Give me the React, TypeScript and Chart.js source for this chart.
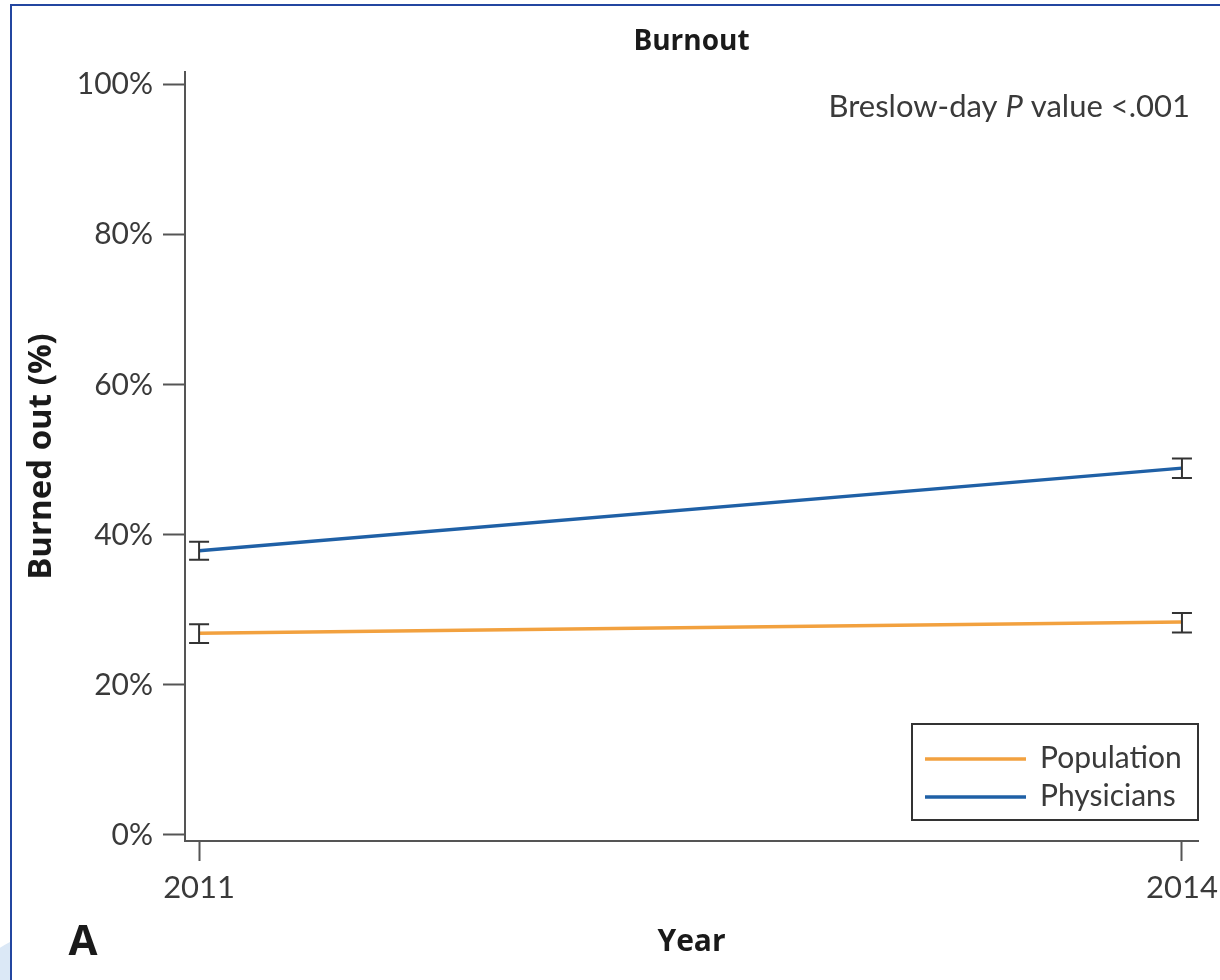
import React, { useEffect, useRef } from "react";
import { Chart, registerables } from "chart.js";

Chart.register(...registerables);

// ---- data ----
const years = [2011, 2014];
const seriesLabels = ["Population", "Physicians"];
const seriesColors = ["#f2a13f", "#1f60a6"];
const populationValues = [26.9, 28.4];
const populationLower = [25.6, 27.0];
const populationUpper = [28.1, 29.6];
const physicianValues = [37.9, 48.9];
const physicianLower = [36.7, 47.6];
const physicianUpper = [39.1, 50.2];
const yTickValues = [0, 20, 40, 60, 80, 100];
const xTickValues = [2011, 2014];
const chartTitle = "Burnout";
const xTitle = "Year";
const yTitle = "Burned out (%)";
const panelLetter = "A";
const annotationParts = [
  { text: "Breslow-day ", italic: false },
  { text: "P", italic: true },
  { text: " value <.001", italic: false },
];

const REG = "Lato";
const BOLD = "'Open Sans'";
const TEXT = "#3a3a3a";
const AXIS = "#555555";

const decorPlugin = {
  id: "decor",
  beforeDraw(chart: any) {
    const ctx = chart.ctx;
    const W = chart.width;
    const H = chart.height;
    ctx.save();
    ctx.fillStyle = "#ffffff";
    ctx.fillRect(0, 0, W, H);
    ctx.beginPath();
    ctx.rect(0, 0, 10, H);
    ctx.clip();
    ctx.beginPath();
    ctx.arc(60, 1040, 110, 0, Math.PI * 2);
    ctx.fillStyle = "#dbe8f6";
    ctx.fill();
    ctx.restore();
    ctx.save();
    ctx.fillStyle = "#2346a0";
    ctx.fillRect(10, 4, W - 10, 2);
    ctx.fillRect(10, 4, 2, H - 4);
    ctx.restore();
  },
  afterDatasetsDraw(chart: any) {
    const ctx = chart.ctx;
    const xs = chart.scales.x;
    const ys = chart.scales.y;
    ctx.save();
    ctx.strokeStyle = "#333333";
    ctx.lineWidth = 2;
    chart.data.datasets.forEach((ds: any) => {
      ds.data.forEach((pt: any, i: number) => {
        const px = xs.getPixelForValue(pt.x);
        const lo = ys.getPixelForValue(ds.lower[i]);
        const hi = ys.getPixelForValue(ds.upper[i]);
        ctx.beginPath();
        ctx.moveTo(px, lo);
        ctx.lineTo(px, hi);
        ctx.moveTo(px - 10, lo);
        ctx.lineTo(px + 10, lo);
        ctx.moveTo(px - 10, hi);
        ctx.lineTo(px + 10, hi);
        ctx.stroke();
      });
    });
    ctx.restore();
  },
  afterDraw(chart: any) {
    const ctx = chart.ctx;
    const area = chart.chartArea;
    ctx.save();
    // title
    ctx.fillStyle = "#1a1a1a";
    ctx.font = `bold 28px ${BOLD}`;
    ctx.textAlign = "center";
    ctx.textBaseline = "alphabetic";
    ctx.fillText(chartTitle, (area.left + area.right) / 2, 50);
    // panel letter
    ctx.font = `bold 42px ${BOLD}`;
    ctx.textAlign = "center";
    ctx.fillText(panelLetter, 83, 955);
    // annotation
    ctx.fillStyle = TEXT;
    const widths = annotationParts.map((p) => {
      ctx.font = `${p.italic ? "italic " : ""}31px ${REG}`;
      return ctx.measureText(p.text).width;
    });
    const total = widths.reduce((a, b) => a + b, 0);
    let x = area.right - 8 - total;
    ctx.textAlign = "left";
    annotationParts.forEach((p, i) => {
      ctx.font = `${p.italic ? "italic " : ""}31px ${REG}`;
      ctx.fillText(p.text, x, 117);
      x += widths[i];
    });
    // legend
    const boxL = area.left + 727;
    const boxR = area.right;
    const boxB = area.bottom - 21;
    const boxT = boxB - 96;
    ctx.strokeStyle = "#333333";
    ctx.lineWidth = 2;
    ctx.strokeRect(boxL, boxT, boxR - boxL, boxB - boxT);
    chart.data.datasets.forEach((ds: any, i: number) => {
      const y = boxT + 35 + i * 38;
      ctx.strokeStyle = ds.borderColor;
      ctx.lineWidth = 3.5;
      ctx.beginPath();
      ctx.moveTo(boxL + 13, y);
      ctx.lineTo(boxL + 114, y);
      ctx.stroke();
      ctx.fillStyle = TEXT;
      ctx.font = `30px ${REG}`;
      ctx.textAlign = "left";
      ctx.textBaseline = "middle";
      ctx.fillText(ds.label, boxL + 128, y - 1);
    });
    ctx.restore();
  },
};

export default function App() {
  const canvasRef = useRef<HTMLCanvasElement | null>(null);

  useEffect(() => {
    let chart: Chart | null = null;
    let cancelled = false;
    const fontsReady = (document as any).fonts
      ? Promise.all([
          (document as any).fonts.load(`30px ${REG}`),
          (document as any).fonts.load(`italic 30px ${REG}`),
          (document as any).fonts.load(`bold 30px ${BOLD}`),
        ]).catch(() => null)
      : Promise.resolve(null);
    fontsReady.then(() => {
      if (cancelled || !canvasRef.current) return;
      const valueSets = [populationValues, physicianValues];
      const lowerSets = [populationLower, physicianLower];
      const upperSets = [populationUpper, physicianUpper];
      chart = new Chart(canvasRef.current, {
        type: "line",
        data: {
          datasets: seriesLabels.map((label, s) => ({
            label,
            data: years.map((yr, i) => ({ x: yr, y: valueSets[s][i] })),
            lower: lowerSets[s],
            upper: upperSets[s],
            borderColor: seriesColors[s],
            backgroundColor: seriesColors[s],
            borderWidth: 3.5,
            pointRadius: 0,
            fill: false,
            tension: 0,
          })) as any,
        },
        options: {
          animation: false,
          responsive: false,
          devicePixelRatio: 1,
          layout: { padding: { top: 72, right: 22, left: 0, bottom: 0 } },
          plugins: {
            legend: { display: false },
            tooltip: { enabled: false },
            title: { display: false },
          },
          scales: {
            x: {
              type: "linear",
              min: 2010.957,
              max: 2014.049,
              afterBuildTicks: (s: any) => {
                s.ticks = xTickValues.map((v) => ({ value: v }));
              },
              afterFit: (s: any) => {
                s.height = 139;
                s.paddingLeft = 0;
                s.paddingRight = 0;
              },
              grid: {
                display: true,
                drawOnChartArea: false,
                drawTicks: true,
                tickLength: 20,
                tickWidth: 2,
                tickColor: AXIS,
              },
              border: { display: true, color: AXIS, width: 2 },
              ticks: {
                autoSkip: false,
                maxRotation: 0,
                padding: 8,
                color: TEXT,
                font: { family: REG, size: 31 },
                callback: (v: any) => String(v),
              },
              title: {
                display: true,
                text: xTitle,
                color: "#1a1a1a",
                font: { family: BOLD, size: 30, weight: "bold", lineHeight: 1.2 },
                padding: { top: 0, bottom: 20 },
              },
            },
            y: {
              type: "linear",
              min: -0.8,
              max: 101.7,
              afterBuildTicks: (s: any) => {
                s.ticks = yTickValues.map((v) => ({ value: v }));
              },
              afterFit: (s: any) => {
                s.width = 185;
                s.paddingTop = 0;
                s.paddingBottom = 0;
              },
              grid: {
                display: true,
                drawOnChartArea: false,
                drawTicks: true,
                tickLength: 22,
                tickWidth: 2,
                tickColor: AXIS,
              },
              border: { display: true, color: AXIS, width: 2 },
              ticks: {
                autoSkip: false,
                padding: 10,
                color: TEXT,
                font: { family: REG, size: 30 },
                callback: (v: any) => `${v}%`,
              },
              title: {
                display: true,
                text: yTitle,
                color: "#1a1a1a",
                font: { family: BOLD, size: 33, weight: "bold", lineHeight: 1.2 },
                padding: { top: 22, bottom: 0 },
              },
            },
          },
        } as any,
        plugins: [decorPlugin as any],
      });
    });
    return () => {
      cancelled = true;
      if (chart) chart.destroy();
    };
  }, []);

  return (
    <div style={{ position: "absolute", left: 0, top: 0, width: 1220, height: 980 }}>
      <canvas ref={canvasRef} width={1220} height={980} style={{ display: "block" }} />
    </div>
  );
}
